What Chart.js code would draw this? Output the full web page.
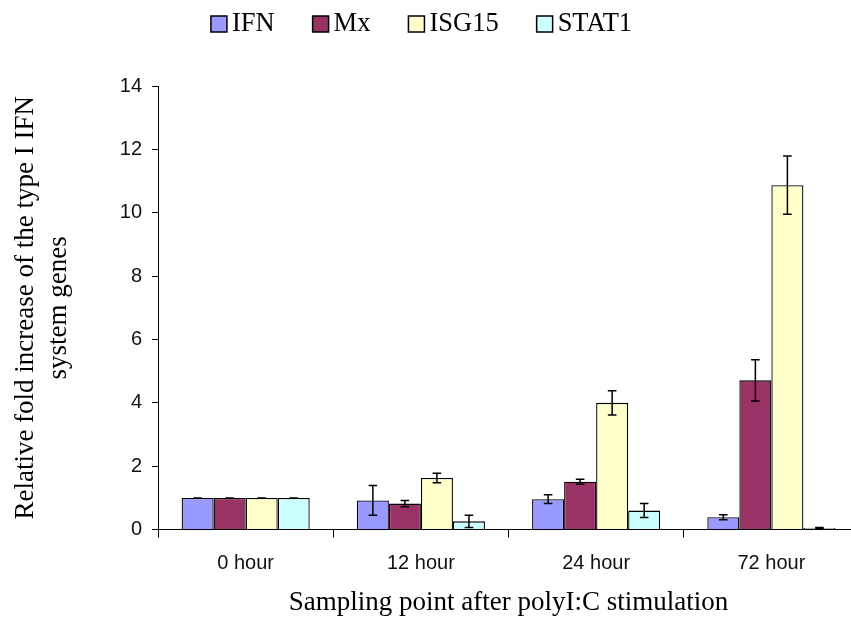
<!DOCTYPE html>
<html>
<head>
<meta charset="utf-8">
<script src="https://cdn.jsdelivr.net/npm/chart.js@4.4.0/dist/chart.umd.min.js"></script>
<style>
html,body{margin:0;padding:0;background:#fff;overflow:hidden;}
#wrap{position:relative;width:860px;height:617px;}
</style>
</head>
<body>
<div id="wrap"><canvas id="c"></canvas></div>
<script>
const categories = ['0 hour', '12 hour', '24 hour', '72 hour'];
const seriesNames = ['IFN', 'Mx', 'ISG15', 'STAT1'];
const ifnValues   = [1.0, 0.92, 0.96, 0.39];
const mxValues    = [1.0, 0.82, 1.51, 4.71];
const isg15Values = [1.0, 1.63, 4.00, 10.87];
const stat1Values = [1.0, 0.26, 0.60, 0.05];
const ifnErrors   = [0, 0.47, 0.14, 0.08];
const mxErrors    = [0, 0.10, 0.08, 0.65];
const isg15Errors = [0, 0.15, 0.38, 0.92];
const stat1Errors = [0, 0.19, 0.22, 0.02];
const yTicks = [0, 2, 4, 6, 8, 10, 12, 14];
const yAxisTitle = ['Relative fold increase of the type I IFN', 'system genes'];
const xAxisTitle = 'Sampling point after polyI:C stimulation';

const colors = ['#9999FF', '#993366', '#FFFFCC', '#CCFFFF'];
const values = [ifnValues, mxValues, isg15Values, stat1Values];
const errors = [ifnErrors, mxErrors, isg15Errors, stat1Errors];

const errorBarPlugin = {
  id: 'errorBars',
  afterDatasetsDraw(chart) {
    const ctx = chart.ctx;
    const y = chart.scales.y;
    ctx.save();
    ctx.strokeStyle = '#000';
    ctx.lineWidth = 1.5;
    chart.data.datasets.forEach((ds, di) => {
      const meta = chart.getDatasetMeta(di);
      meta.data.forEach((bar, i) => {
        const v = ds.data[i], e = ds.errors[i];
        const top = y.getPixelForValue(v + e);
        const bot = y.getPixelForValue(v - e);
        const x = bar.x, cap = 4.3;
        ctx.beginPath();
        ctx.moveTo(x, top); ctx.lineTo(x, bot);
        ctx.moveTo(x - cap, top); ctx.lineTo(x + cap, top);
        ctx.moveTo(x - cap, bot); ctx.lineTo(x + cap, bot);
        ctx.stroke();
      });
    });
    ctx.restore();
  }
};

const topLegendPlugin = {
  id: 'topLegend',
  afterDraw(chart) {
    const ctx = chart.ctx;
    ctx.save();
    ctx.font = '26.5px "Liberation Serif"';
    ctx.textBaseline = 'middle';
    ctx.textAlign = 'left';
    const box = 16, gap = 5, space = 38, cy = 24, cx = 421.5;
    const items = chart.data.datasets.map(ds => ({
      text: ds.label, color: ds.backgroundColor, w: ctx.measureText(ds.label).width
    }));
    let total = items.reduce((s, it) => s + box + gap + it.w, 0) + space * (items.length - 1);
    let x = cx - total / 2;
    items.forEach(it => {
      ctx.fillStyle = it.color;
      ctx.fillRect(x, cy - box / 2, box, box);
      ctx.strokeStyle = '#000';
      ctx.lineWidth = 1.5;
      ctx.strokeRect(x, cy - box / 2, box, box);
      ctx.fillStyle = '#000';
      ctx.fillText(it.text, x + box + gap, cy);
      x += box + gap + it.w + space;
    });
    ctx.restore();
  }
};

new Chart(document.getElementById('c'), {
  type: 'bar',
  data: {
    labels: categories,
    datasets: seriesNames.map((n, k) => ({
      label: n,
      data: values[k],
      errors: errors[k],
      backgroundColor: colors[k],
      borderColor: '#000',
      borderWidth: 1.3,
      categoryPercentage: 0.731,
      barPercentage: 1.0
    }))
  },
  options: {
    responsive: true,
    maintainAspectRatio: false,
    animation: false,
    devicePixelRatio: 1,
    layout: { padding: { top: 86, right: 1, left: 10, bottom: 1 } },
    plugins: {
      legend: { display: false },
      tooltip: { enabled: false }
    },
    scales: {
      x: {
        border: { color: '#000', width: 1 },
        grid: { drawOnChartArea: false, drawTicks: true, tickLength: 8, color: '#000', offset: true },
        ticks: { font: { family: 'Liberation Sans', size: 20 }, color: '#111', padding: 14 },
        title: { display: true, text: xAxisTitle, font: { family: 'Liberation Serif', size: 27, lineHeight: 0.978 }, color: '#000', padding: { top: 0, bottom: 0 } }
      },
      y: {
        min: 0, max: 14,
        afterBuildTicks(axis) { axis.ticks = yTicks.map(v => ({ value: v })); },
        border: { color: '#000', width: 1 },
        grid: { drawOnChartArea: false, drawTicks: true, tickLength: 6, color: '#000' },
        ticks: { font: { family: 'Liberation Sans', size: 20 }, color: '#111', padding: 10 },
        title: { display: true, text: yAxisTitle, font: { family: 'Liberation Serif', size: 27 }, color: '#000', padding: { top: 0, bottom: 35 } }
      }
    }
  },
  plugins: [errorBarPlugin, topLegendPlugin]
});
</script>
</body>
</html>
